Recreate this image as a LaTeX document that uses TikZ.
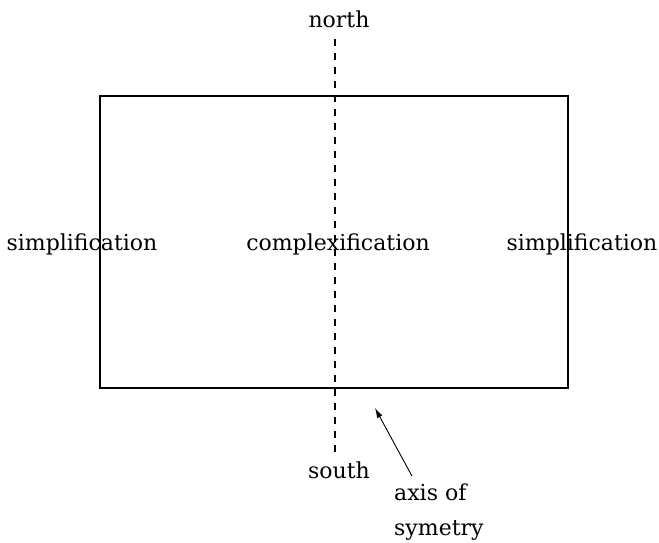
\documentclass[tikz,border=0pt]{standalone}
\usepackage{fontspec}
\setmainfont{DejaVu Serif}
\usetikzlibrary{arrows.meta}
\begin{document}
\begin{tikzpicture}[x=1pt,y=-1pt,
  lbl/.style={inner sep=0pt,anchor=base,font=\fontsize{22}{26}\selectfont},
  frame/.style={draw=black,line width=1.3pt},
  axisline/.style={draw=black,line width=1.4pt,dash pattern=on 7pt off 7pt},
  pointer/.style={draw=black,line width=0.9pt,-{Latex[length=10pt,width=6pt]}}]
  \useasboundingbox (0,0) rectangle (659,542);
  % the box
  \draw[frame] (100,96) rectangle (568,388);
  % labels
  \node[lbl] (north) at (339,27) {north};
  \node[lbl] (south) at (339,478) {south};
  \node[lbl] (left) at (82,250) {simplification};
  \node[lbl] (mid) at (338,250) {complexification};
  \node[lbl] (right) at (582,250) {simplification};
  \node[lbl,anchor=base west] (axis1) at (394,500) {axis of};
  \node[lbl,anchor=base west] (axis2) at (394,535) {symetry};
  % dashed axis through the box
  \draw[axisline] ([xshift=-4pt,yshift=-11pt]north.south) -- ([xshift=-4pt,yshift=6pt]south.north);
  % arrow pointing at the axis
  \coordinate (tip) at (375,408);
  \draw[pointer] ([xshift=18pt,yshift=7pt]axis1.north west) -- (tip);
\end{tikzpicture}
\end{document}
